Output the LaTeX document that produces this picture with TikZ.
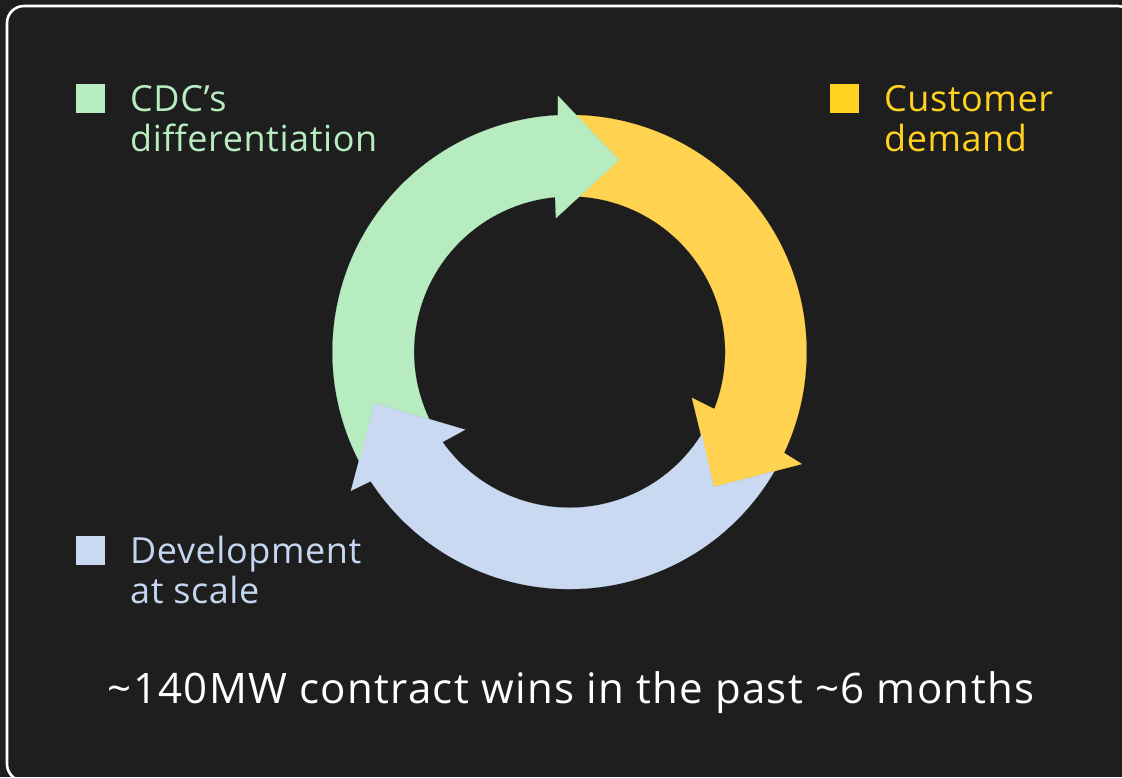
\documentclass[tikz,border=0pt]{standalone}
\usepackage{fontspec}
\usetikzlibrary{calc}
\setmainfont{Open Sans}[LetterSpace=1.6]
\newfontfamily\capfont{Open Sans}[LetterSpace=3.1]
\definecolor{bgc}{HTML}{1E1E1E}
\definecolor{greenc}{HTML}{B7EBC0}
\definecolor{yellowc}{HTML}{FFD24F}
\definecolor{yellowk}{HTML}{FFD21F}
\definecolor{bluec}{HTML}{C9D9F2}
\definecolor{bluet}{HTML}{C4D6F0}
\tikzset{
  legendtext/.style={anchor=base west,inner sep=0pt,font=\fontsize{36}{40}\selectfont,align=left},
  legendbox/.style={minimum size=29pt,inner sep=0pt,draw=none,anchor=south west},
  seg/.style={line width=0.2pt}
}
\begin{document}
\begin{tikzpicture}[x=1pt,y=1pt]
\useasboundingbox (0,0) rectangle (1122,777);
\fill[bgc] (0,0) rectangle (1122,777);
\draw[white,line width=2.6pt,rounded corners=17pt] (7,-4) rectangle (1134,771);
\coordinate (c) at (569.5,425);
% ring arrows
\filldraw[seg,fill=yellowc,draw=yellowc] ($(c)+(88.4:237)$) arc[start angle=88.4,end angle=-25.2,radius=237]
  -- (801.7,313) -- (713.7,290) -- (692,379) -- ($(c)+(-21.5:155.8)$)
  arc[start angle=-21.5,end angle=86.4,radius=155.8] -- (619,617) -- cycle;
\filldraw[seg,fill=bluec,draw=bluec] ($(c)+(-30.2:237)$) arc[start angle=-30.2,end angle=-147,radius=237]
  -- (351,286.3) -- (374.3,374) -- (465,347.3) -- ($(c)+(215.3:155.8)$)
  arc[start angle=215.3,end angle=328,radius=155.8] -- (713.7,290) -- cycle;
\filldraw[seg,fill=greenc,draw=greenc] ($(c)+(207.4:237)$) arc[start angle=207.4,end angle=92.8,radius=237]
  -- (558,681) -- (619,617) -- (556,559) -- ($(c)+(95.3:155.6)$)
  arc[start angle=95.3,end angle=205.5,radius=155.6] -- (374.3,374) -- cycle;
% legend
\node[legendbox,fill=greenc] (k1) at (76,664) {};
\node[legendbox,fill=yellowk] (k2) at (830,664) {};
\node[legendbox,fill=bluec] (k3) at (76,212) {};
\node[legendtext,text=greenc] (t1a) at (130,665) {CDC’s};
\node[legendtext,text=greenc] (t1b) at (130,625) {differentiation};
\node[legendtext,text=yellowk] (t2a) at (884,665) {Customer};
\node[legendtext,text=yellowk] (t2b) at (884,625) {demand};
\node[legendtext,text=bluet] (t3a) at (130,213) {Development};
\node[legendtext,text=bluet] (t3b) at (130,173) {at scale};
\node[anchor=base,inner sep=0pt,text=white,font=\capfont\fontsize{42}{48}\selectfont] (cap) at (571,74) {\textasciitilde 140MW contract wins in the past \textasciitilde 6 months};
\end{tikzpicture}
\end{document}
